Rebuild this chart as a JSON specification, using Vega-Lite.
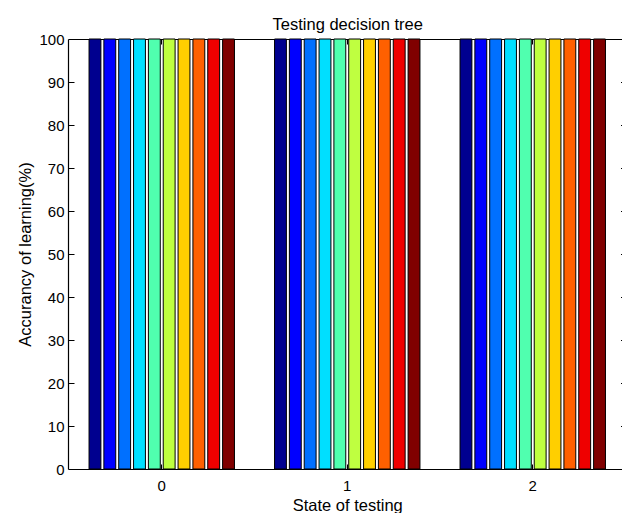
{
  "$schema": "https://vega.github.io/schema/vega-lite/v6.json",
  "width": 553,
  "height": 430,
  "autosize": {"type": "none"},
  "padding": {"left": 69, "top": 39, "right": 0, "bottom": 44},
  "background": "white",
  "config": {
    "view": {"stroke": null},
    "axis": {"labelFont": "Liberation Sans", "titleFont": "Liberation Sans", "labelFontSize": 15, "titleFontSize": 16.5, "titleFontWeight": "normal", "labelColor": "black", "titleColor": "black", "domain": true, "domainColor": "black", "domainWidth": 1, "tickColor": "black", "tickWidth": 1, "grid": false}
  },
  "data": {"values": [
    {"state": "0", "bar": 1, "value": 100}, {"state": "0", "bar": 2, "value": 100}, {"state": "0", "bar": 3, "value": 100}, {"state": "0", "bar": 4, "value": 100}, {"state": "0", "bar": 5, "value": 100},
    {"state": "0", "bar": 6, "value": 100}, {"state": "0", "bar": 7, "value": 100}, {"state": "0", "bar": 8, "value": 100}, {"state": "0", "bar": 9, "value": 100}, {"state": "0", "bar": 10, "value": 100},
    {"state": "1", "bar": 1, "value": 100}, {"state": "1", "bar": 2, "value": 100}, {"state": "1", "bar": 3, "value": 100}, {"state": "1", "bar": 4, "value": 100}, {"state": "1", "bar": 5, "value": 100},
    {"state": "1", "bar": 6, "value": 100}, {"state": "1", "bar": 7, "value": 100}, {"state": "1", "bar": 8, "value": 100}, {"state": "1", "bar": 9, "value": 100}, {"state": "1", "bar": 10, "value": 100},
    {"state": "2", "bar": 1, "value": 100}, {"state": "2", "bar": 2, "value": 100}, {"state": "2", "bar": 3, "value": 100}, {"state": "2", "bar": 4, "value": 100}, {"state": "2", "bar": 5, "value": 100},
    {"state": "2", "bar": 6, "value": 100}, {"state": "2", "bar": 7, "value": 100}, {"state": "2", "bar": 8, "value": 100}, {"state": "2", "bar": 9, "value": 100}, {"state": "2", "bar": 10, "value": 100}
  ]},
  "resolve": {"axis": {"x": "independent", "y": "independent"}},
  "layer": [
    {
      "mark": {"type": "bar", "stroke": "black", "strokeWidth": 1, "opacity": 1},
      "encoding": {
        "x": {"field": "state", "type": "nominal", "sort": ["0", "1", "2"],
              "scale": {"paddingInner": 0.2, "paddingOuter": 0.1, "range": [0, 556.5]},
              "axis": {"orient": "bottom", "title": "State of testing", "labelAngle": 0, "tickSize": -5, "labelPadding": 14, "titlePadding": 4}},
        "xOffset": {"field": "bar", "type": "ordinal", "scale": {"paddingInner": 0.2, "paddingOuter": 0.1}},
        "y": {"field": "value", "type": "quantitative", "scale": {"domain": [0, 100], "nice": false},
              "axis": {"orient": "left", "title": "Accurancy of learning(%)", "values": [0, 10, 20, 30, 40, 50, 60, 70, 80, 90, 100], "offset": 1, "tickSize": -6, "labelPadding": 10, "titlePadding": 5, "domainWidth": 1.2, "zindex": 1}},
        "color": {"field": "bar", "type": "ordinal", "legend": null,
                  "scale": {"domain": [1, 2, 3, 4, 5, 6, 7, 8, 9, 10], "range": ["#00008F", "#0000FF", "#0070FF", "#00DFFF", "#50FFAF", "#BFFF40", "#FFCF00", "#FF6000", "#EF0000", "#800000"]}}
      }
    },
    {
      "mark": {"type": "bar", "opacity": 0},
      "encoding": {
        "x": {"field": "state", "type": "nominal", "sort": ["0", "1", "2"],
              "scale": {"paddingInner": 0.2, "paddingOuter": 0.1, "range": [0, 556.5]},
              "axis": {"orient": "top", "title": "Testing decision tree", "titlePadding": 6, "labels": false, "tickSize": -5}},
        "y": {"field": "value", "type": "quantitative", "scale": {"domain": [0, 100], "nice": false},
              "axis": {"orient": "right", "title": null, "labels": false, "values": [0, 10, 20, 30, 40, 50, 60, 70, 80, 90, 100], "tickSize": -5, "offset": 3.5}}
      }
    }
  ]
}
